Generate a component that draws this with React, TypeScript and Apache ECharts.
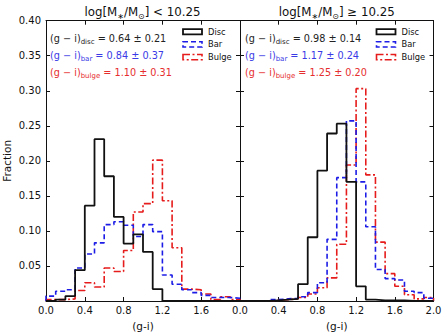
import React, { useEffect, useRef } from "react";
import * as echarts from "echarts";

// Histogram bin edges of (g-i) colour, 0.1 wide
const BIN_EDGES = [
  0.0, 0.1, 0.2, 0.3, 0.4, 0.5, 0.6, 0.7, 0.8, 0.9, 1.0,
  1.1, 1.2, 1.3, 1.4, 1.5, 1.6, 1.7, 1.8, 1.9, 2.0,
];

// log[M*/Msun] < 10.25
const discLow = [0, 0.002, 0.007, 0.044, 0.136, 0.231, 0.178, 0.12, 0.082, 0.095, 0.07, 0.017, 0, 0, 0, 0, 0, 0, 0, 0];
const barLow = [0.007, 0.014, 0.016, 0.047, 0.067, 0.083, 0.109, 0.113, 0.108, 0.092, 0.109, 0.099, 0.037, 0.024, 0.016, 0.012, 0.008, 0.005, 0.005, 0.004];
const bulgeLow = [0.002, 0.002, 0.003, 0.015, 0.026, 0.02, 0.047, 0.042, 0.072, 0.127, 0.139, 0.201, 0.143, 0.076, 0.017, 0.016, 0.01, 0.002, 0.006, 0.002];

// log[M*/Msun] >= 10.25
const discHigh = [0, 0, 0, 0.001, 0.002, 0.003, 0.024, 0.091, 0.186, 0.239, 0.253, 0.17, 0.021, 0.002, 0.001, 0.001, 0.001, 0, 0, 0];
const barHigh = [0, 0, 0, 0.002, 0.003, 0.004, 0.006, 0.012, 0.026, 0.088, 0.176, 0.257, 0.17, 0.106, 0.045, 0.032, 0.03, 0.014, 0.012, 0.004];
const bulgeHigh = [0, 0, 0, 0.001, 0.002, 0.003, 0.005, 0.01, 0.019, 0.033, 0.081, 0.194, 0.303, 0.18, 0.084, 0.039, 0.021, 0.009, 0.003, 0.005];

const panelTitles = [
  { rel: "<", limit: "10.25" },
  { rel: "≥", limit: "10.25" },
];
const components = ["Disc", "Bar", "Bulge"];
const subscripts = ["disc", "bar", "bulge"];
const meanLow = ["0.64 ± 0.21", "0.84 ± 0.37", "1.10 ± 0.31"];
const meanHigh = ["0.98 ± 0.14", "1.17 ± 0.24", "1.25 ± 0.20"];

const xTicks = { min: 0, max: 2, interval: 0.4 };
const yTicks = { min: 0, max: 0.4, interval: 0.05 };

const FONT = "DejaVu Sans";
const INK = "#111111";
const COLORS = ["#111111", "#1c1ce6", "#e61c1c"];
const TEXT_COLORS = ["#222222", "#3a3ae6", "#e62e2e"];
const DASHES: (string | number[])[] = ["solid", [5, 3], [7, 2.5, 2, 2.5]];
const WIDTHS = [1.8, 1.6, 1.6];

const GRIDS = [
  { left: 45, top: 20.7, width: 195, height: 284 },
  { left: 240, top: 20.7, width: 193.5, height: 284 },
];

// Outline of a step histogram: up from zero at the first edge, down to zero at the last
function outline(values: number[]) {
  const pts: number[][] = [[BIN_EDGES[0], 0]];
  values.forEach((v, i) => pts.push([BIN_EDGES[i], v]));
  const last = BIN_EDGES[BIN_EDGES.length - 1];
  pts.push([last, values[values.length - 1]]);
  pts.push([last, 0]);
  return pts;
}

function fmtTick(v: number, digits: number) {
  return (Math.round(v * 1000) / 1000).toFixed(digits);
}

export default function App() {
  const ref = useRef<HTMLDivElement>(null);

  useEffect(() => {
    if (!ref.current) return;
    const chart = echarts.init(ref.current, undefined, { renderer: "svg" });

    const xAxes: any[] = [];
    const yAxes: any[] = [];
    GRIDS.forEach((_, g) => {
      const tick = { show: true, inside: true, length: 4, lineStyle: { color: INK, width: 1 } };
      const line = { show: true, onZero: false, lineStyle: { color: INK, width: 1 } };
      xAxes.push({
        gridIndex: g,
        type: "value",
        position: "bottom",
        ...xTicks,
        axisLine: line,
        axisTick: tick,
        splitLine: { show: false },
        axisLabel: {
          fontFamily: FONT,
          fontSize: 10,
          color: INK,
          margin: 4,
          formatter: (v: number) => (g === 0 && v > 1.9 ? "" : fmtTick(v, 1)),
        },
        name: "(g-i)",
        nameLocation: "middle",
        nameGap: 19,
        nameTextStyle: { fontFamily: FONT, fontSize: 10.5, color: INK },
      });
      xAxes.push({
        gridIndex: g,
        type: "value",
        position: "top",
        ...xTicks,
        axisLine: line,
        axisTick: tick,
        splitLine: { show: false },
        axisLabel: { show: false },
      });
      yAxes.push({
        gridIndex: g,
        type: "value",
        position: "left",
        ...yTicks,
        axisLine: line,
        axisTick: tick,
        splitLine: { show: false },
        axisLabel: {
          show: g === 0,
          fontFamily: FONT,
          fontSize: 10,
          color: INK,
          margin: 5,
          formatter: (v: number) => (v < 0.001 ? "" : fmtTick(v, 2)),
        },
        name: g === 0 ? "Fraction" : "",
        nameLocation: "middle",
        nameGap: 34,
        nameTextStyle: { fontFamily: FONT, fontSize: 10.5, color: INK },
      });
      yAxes.push({
        gridIndex: g,
        type: "value",
        position: "right",
        ...yTicks,
        axisLine: line,
        axisTick: tick,
        splitLine: { show: false },
        axisLabel: { show: false },
      });
    });

    const panels = [
      [discLow, barLow, bulgeLow],
      [discHigh, barHigh, bulgeHigh],
    ];
    const series: any[] = [];
    panels.forEach((sets, g) => {
      sets.forEach((vals, k) => {
        series.push({
          type: "line",
          name: components[k],
          xAxisIndex: g * 2,
          yAxisIndex: g * 2,
          step: "end",
          symbol: "none",
          clip: true,
          z: 3 - k,
          data: outline(vals),
          lineStyle: { color: COLORS[k], width: WIDTHS[k], type: DASHES[k] },
        });
      });
    });

    const graphic: any[] = [];
    const means = [meanLow, meanHigh];
    GRIDS.forEach((grid, g) => {
      // panel title
      graphic.push({
        type: "text",
        x: grid.left + grid.width / 2,
        y: 12,
        style: {
          text: `{t|log[M}{s|∗}{t|/M}{s|⊙}{t|] ${panelTitles[g].rel} ${panelTitles[g].limit}}`,
          align: "center",
          verticalAlign: "middle",
          rich: {
            t: { fontFamily: FONT, fontSize: 11.8, fill: INK, lineHeight: 16 },
            s: { fontFamily: FONT, fontSize: 8, fill: INK, lineHeight: 10, verticalAlign: "bottom" },
          },
        },
      });
      // mean colours of each component
      means[g].forEach((m, k) => {
        graphic.push({
          type: "text",
          x: grid.left + 5,
          y: 38 + k * 17.3,
          style: {
            text: `{t|(g − i)}{s|${subscripts[k]}}{t| = ${m}}`,
            align: "left",
            verticalAlign: "middle",
            rich: {
              t: { fontFamily: FONT, fontSize: 9.7, fill: TEXT_COLORS[k], lineHeight: 14 },
              s: { fontFamily: FONT, fontSize: 7, fill: TEXT_COLORS[k], lineHeight: 8, verticalAlign: "bottom" },
            },
          },
        });
      });
      // legend boxes
      const lx = grid.left + grid.width - 57;
      components.forEach((c, k) => {
        const cy = 31.7 + k * 12.7;
        graphic.push({
          type: "rect",
          shape: { x: lx, y: cy - 2.6, width: 19, height: 5.2 },
          style: {
            fill: "none",
            stroke: COLORS[k],
            lineWidth: WIDTHS[k],
            lineDash: k === 0 ? null : (DASHES[k] as number[]),
          },
        });
        graphic.push({
          type: "text",
          x: lx + 25,
          y: cy,
          style: {
            text: c,
            fontFamily: FONT,
            fontSize: 8.3,
            fill: INK,
            align: "left",
            verticalAlign: "middle",
          },
        });
      });
    });

    chart.setOption({
      animation: false,
      backgroundColor: "#ffffff",
      grid: GRIDS,
      xAxis: xAxes,
      yAxis: yAxes,
      series,
      graphic,
    });

    return () => chart.dispose();
  }, []);

  return (
    <div
      ref={ref}
      style={{ width: 447, height: 336, position: "absolute", left: 0, top: 0 }}
    />
  );
}
